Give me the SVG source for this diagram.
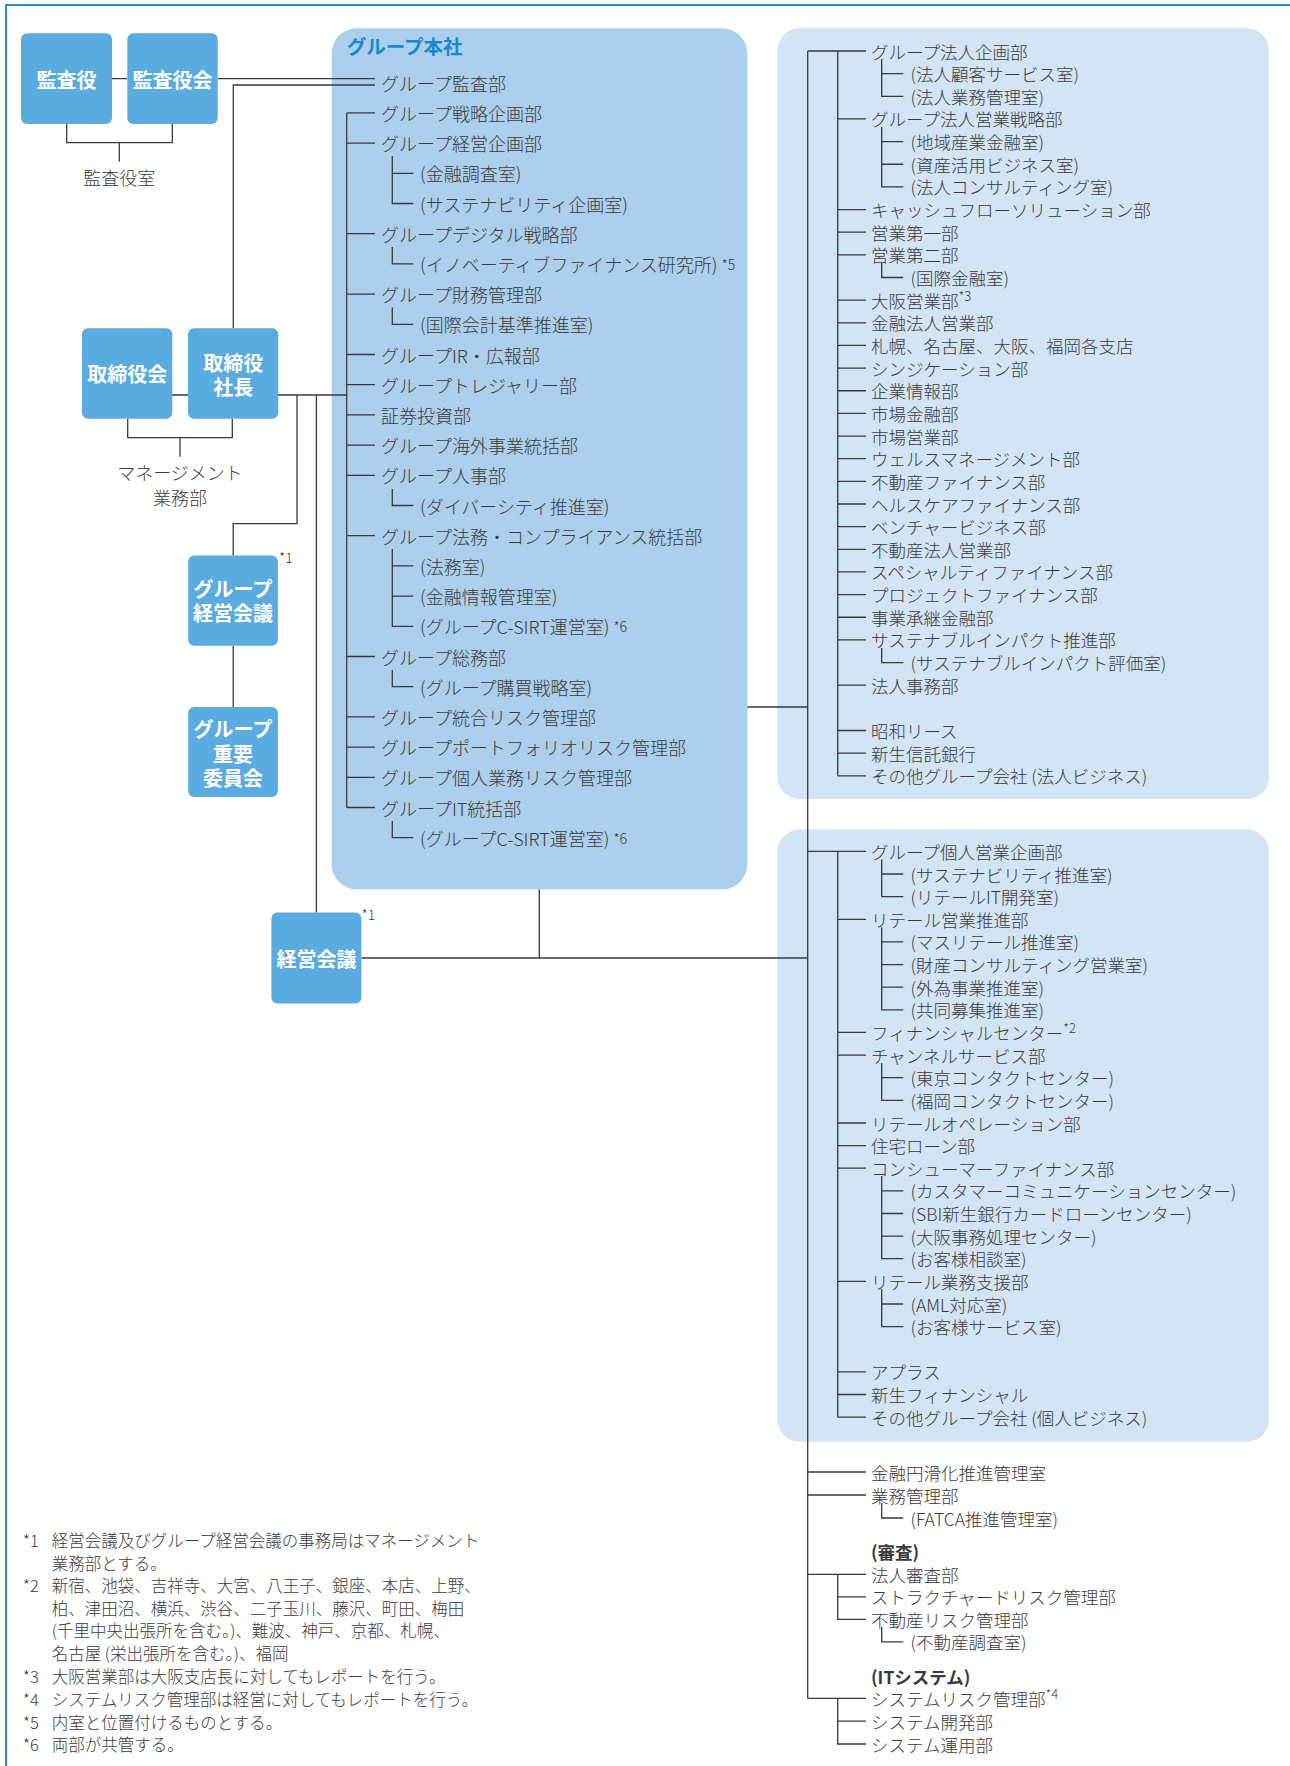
<svg xmlns="http://www.w3.org/2000/svg" width="1290" height="1766" viewBox="0 0 1290 1766">
<style>
text{font-family:"Noto Sans CJK JP","Noto Sans",sans-serif;dominant-baseline:central}
.t{font-size:18px;fill:#3b3b3b;font-weight:300}
.r{font-size:17.5px;fill:#3b3b3b;font-weight:300}
.b{font-weight:bold}
.sup{font-size:13px}
.ast{font-size:14px;fill:#3b3b3b;font-weight:300}
.fn{font-size:16.5px;fill:#3b3b3b;font-weight:300}
.bx{fill:#5aabdf}
.bt{font-size:20px;font-weight:bold;fill:#ffffff;text-anchor:middle}
.ln{stroke:#3a3a3a;stroke-width:1.3;fill:none}
.mid{text-anchor:middle}
</style>
<rect width="1290" height="1766" fill="#ffffff"/>
<path d="M6,1766 V5 H1290" fill="none" stroke="#2a8bd0" stroke-width="2"/>

<!-- panels -->
<g id="panel-hq">
<rect x="331.7" y="28.3" width="415.6" height="861" rx="25" fill="#abcfec"/>
<text x="346.7" y="45" font-size="19.5" font-weight="bold" fill="#1689d0">グループ本社</text>
</g>
<g id="panel-corporate"><rect x="777.5" y="28.3" width="491.5" height="770.7" rx="22" fill="#d3e4f4"/></g>
<g id="panel-retail"><rect x="777.5" y="829.5" width="491.5" height="612.2" rx="22" fill="#d3e4f4"/></g>

<!-- connectors -->
<g id="connectors" class="ln">
<path d="M112,78.7 H127 M218,78.7 H375 M233.3,328 V85 H375"/>
<path d="M66.7,124 V142.7 H172.3 V124 M119.3,142.7 V161.7"/>
<path d="M172,395 H188 M278,395 H346.7"/>
<path d="M127.7,419 V437.7 H232.3 V419 M180,437.7 V456.7"/>
<path d="M297,395 V523.6 H233.2 V555.4 M316.4,395 V912.5 M233.2,645.7 V707"/>
<path d="M361.4,958 H807.7 M539.3,889.3 V958 M747.3,707 H807.7 M807.7,51 V1698.4"/>
<!-- HQ tree -->
<path d="M346.7,112.9 V807.5 M346.7,112.9 H375 M346.7,143.1 H375 M346.7,233.7 H375 M346.7,294.1 H375 M346.7,354.5 H375 M346.7,384.7 H375 M346.7,414.9 H375 M346.7,445.1 H375 M346.7,475.3 H375 M346.7,535.7 H375 M346.7,656.5 H375 M346.7,716.9 H375 M346.7,747.1 H375 M346.7,777.3 H375 M346.7,807.5 H375"/>
<path d="M392.3,156 V203.5 H413.3 M392.3,173.3 H413.3 M392.3,247 V263.9 H413.3 M392.3,307.5 V324.3 H413.3 M392.3,489 V505.5 H413.3 M392.3,549 V626.3 H413.3 M392.3,565.9 H413.3 M392.3,596.1 H413.3 M392.3,670 V686.7 H413.3 M392.3,821 V837.7 H413.3"/>
<!-- corporate tree -->
<path d="M807.7,51 H866 M837.7,51 V775.8 M837.7,118.95 H866 M837.7,209.55 H866 M837.7,232.2 H866 M837.7,254.85 H866 M837.7,300.15 H866 M837.7,322.8 H866 M837.7,345.45 H866 M837.7,368.1 H866 M837.7,390.75 H866 M837.7,413.4 H866 M837.7,436.05 H866 M837.7,458.7 H866 M837.7,481.35 H866 M837.7,504 H866 M837.7,526.65 H866 M837.7,549.3 H866 M837.7,571.95 H866 M837.7,594.6 H866 M837.7,617.25 H866 M837.7,639.9 H866 M837.7,685.2 H866 M837.7,730.5 H866 M837.7,753.15 H866 M837.7,775.8 H866"/>
<path d="M881.7,59 V96.3 H903.3 M881.7,73.65 H903.3 M881.7,127 V186.9 H903.3 M881.7,141.6 H903.3 M881.7,164.25 H903.3 M881.7,263 V277.5 H903.3 M881.7,648 V662.55 H903.3"/>
<!-- retail tree -->
<path d="M807.7,851.4 H866 M837.7,851.4 V1417.2 M837.7,919.3 H866 M837.7,1032.4 H866 M837.7,1055.1 H866 M837.7,1123 H866 M837.7,1145.6 H866 M837.7,1168.2 H866 M837.7,1281.4 H866 M837.7,1371.9 H866 M837.7,1394.5 H866 M837.7,1417.2 H866"/>
<path d="M881.7,859.4 V896.7 H903.3 M881.7,874 H903.3 M881.7,927.3 V1009.8 H903.3 M881.7,941.9 H903.3 M881.7,964.6 H903.3 M881.7,987.2 H903.3 M881.7,1063 V1100.3 H903.3 M881.7,1077.7 H903.3 M881.7,1176 V1258.7 H903.3 M881.7,1190.9 H903.3 M881.7,1213.5 H903.3 M881.7,1236.1 H903.3 M881.7,1289 V1326.6 H903.3 M881.7,1304 H903.3"/>
<!-- lower tree -->
<path d="M807.7,1472 H866 M807.7,1495 H866 M881.7,1503 V1518 H903.3 M807.7,1574.3 H866 M837.7,1574.3 V1619.3 H866 M837.7,1596.8 H866 M881.7,1627 V1641.8 H903.3 M807.7,1698.4 H866 M837.7,1698.4 V1744 H866 M837.7,1721.2 H866"/>
</g>

<!-- board boxes -->
<g id="node-kansayaku"><rect class="bx" x="21" y="33.3" width="91" height="90.7" rx="6"/><text class="bt" x="66.5" y="79">監査役</text></g>
<g id="node-kansayakukai"><rect class="bx" x="127.3" y="33.3" width="90.4" height="90.7" rx="6"/><text class="bt" x="172.5" y="79">監査役会</text></g>
<g id="node-kansayakushitsu"><text class="t mid" x="119.3" y="177">監査役室</text></g>
<g id="node-torishimariyakukai"><rect class="bx" x="82" y="328.3" width="90.3" height="90.4" rx="6"/><text class="bt" x="127.2" y="373.5">取締役会</text></g>
<g id="node-shacho"><rect class="bx" x="188" y="328.3" width="90.3" height="90.4" rx="6"/><text class="bt" x="233.2" y="362">取締役<tspan x="233.2" dy="23.5">社長</tspan></text></g>
<g id="node-management"><text class="t mid" x="180" y="471.7">マネージメント<tspan x="180" dy="25">業務部</tspan></text></g>
<g id="node-group-keiei"><rect class="bx" x="188.2" y="555.4" width="89.7" height="90.3" rx="6"/><text class="bt" x="233" y="588">グループ<tspan x="233" dy="24">経営会議</tspan></text><text class="ast" x="279" y="557">*1</text></g>
<g id="node-group-juyo"><rect class="bx" x="188.2" y="707" width="89.7" height="90" rx="6"/><text class="bt" x="233" y="728.6">グループ<tspan x="233" dy="24.2">重要</tspan><tspan x="233" dy="24">委員会</tspan></text></g>
<g id="node-keiei"><rect class="bx" x="271.4" y="912.5" width="90" height="91" rx="6"/><text class="bt" x="316.4" y="958.2">経営会議</text><text class="ast" x="361.5" y="914">*1</text></g>

<!-- HQ items -->
<g id="hq-items" class="t">
<text x="381" y="82.7">グループ監査部</text>
<text x="381" y="112.9">グループ戦略企画部</text>
<text x="381" y="143.1">グループ経営企画部</text>
<text x="420" y="173.3">(金融調査室)</text>
<text x="420" y="203.5">(サステナビリティ企画室)</text>
<text x="381" y="233.7">グループデジタル戦略部</text>
<text x="420" y="263.9">(イノベーティブファイナンス研究所) <tspan font-size="14">*5</tspan></text>
<text x="381" y="294.1">グループ財務管理部</text>
<text x="420" y="324.3">(国際会計基準推進室)</text>
<text x="381" y="354.5">グループIR・広報部</text>
<text x="381" y="384.7">グループトレジャリー部</text>
<text x="381" y="414.9">証券投資部</text>
<text x="381" y="445.1">グループ海外事業統括部</text>
<text x="381" y="475.3">グループ人事部</text>
<text x="420" y="505.5">(ダイバーシティ推進室)</text>
<text x="381" y="535.7">グループ法務・コンプライアンス統括部</text>
<text x="420" y="565.9">(法務室)</text>
<text x="420" y="596.1">(金融情報管理室)</text>
<text x="420" y="626.3">(グループC-SIRT運営室) <tspan font-size="14">*6</tspan></text>
<text x="381" y="656.5">グループ総務部</text>
<text x="420" y="686.7">(グループ購買戦略室)</text>
<text x="381" y="716.9">グループ統合リスク管理部</text>
<text x="381" y="747.1">グループポートフォリオリスク管理部</text>
<text x="381" y="777.3">グループ個人業務リスク管理部</text>
<text x="381" y="807.5">グループIT統括部</text>
<text x="420" y="837.7">(グループC-SIRT運営室) <tspan font-size="14">*6</tspan></text>
</g>

<!-- corporate items -->
<g id="corporate-items" class="r">
<text x="871" y="51">グループ法人企画部</text>
<text x="910.5" y="73.65">(法人顧客サービス室)</text>
<text x="910.5" y="96.3">(法人業務管理室)</text>
<text x="871" y="118.95">グループ法人営業戦略部</text>
<text x="910.5" y="141.6">(地域産業金融室)</text>
<text x="910.5" y="164.25">(資産活用ビジネス室)</text>
<text x="910.5" y="186.9">(法人コンサルティング室)</text>
<text x="871" y="209.55">キャッシュフローソリューション部</text>
<text x="871" y="232.2">営業第一部</text>
<text x="871" y="254.85">営業第二部</text>
<text x="910.5" y="277.5">(国際金融室)</text>
<text x="871" y="300.15">大阪営業部<tspan class="sup" dy="-5">*3</tspan></text>
<text x="871" y="322.8">金融法人営業部</text>
<text x="871" y="345.45">札幌、名古屋、大阪、福岡各支店</text>
<text x="871" y="368.1">シンジケーション部</text>
<text x="871" y="390.75">企業情報部</text>
<text x="871" y="413.4">市場金融部</text>
<text x="871" y="436.05">市場営業部</text>
<text x="871" y="458.7">ウェルスマネージメント部</text>
<text x="871" y="481.35">不動産ファイナンス部</text>
<text x="871" y="504">ヘルスケアファイナンス部</text>
<text x="871" y="526.65">ベンチャービジネス部</text>
<text x="871" y="549.3">不動産法人営業部</text>
<text x="871" y="571.95">スペシャルティファイナンス部</text>
<text x="871" y="594.6">プロジェクトファイナンス部</text>
<text x="871" y="617.25">事業承継金融部</text>
<text x="871" y="639.9">サステナブルインパクト推進部</text>
<text x="910.5" y="662.55">(サステナブルインパクト評価室)</text>
<text x="871" y="685.2">法人事務部</text>
<text x="871" y="730.5">昭和リース</text>
<text x="871" y="753.15">新生信託銀行</text>
<text x="871" y="775.8">その他グループ会社 (法人ビジネス)</text>
</g>

<!-- retail items -->
<g id="retail-items" class="r">
<text x="871" y="851.4">グループ個人営業企画部</text>
<text x="910.5" y="874">(サステナビリティ推進室)</text>
<text x="910.5" y="896.7">(リテールIT開発室)</text>
<text x="871" y="919.3">リテール営業推進部</text>
<text x="910.5" y="941.9">(マスリテール推進室)</text>
<text x="910.5" y="964.6">(財産コンサルティング営業室)</text>
<text x="910.5" y="987.2">(外為事業推進室)</text>
<text x="910.5" y="1009.8">(共同募集推進室)</text>
<text x="871" y="1032.4">フィナンシャルセンター<tspan class="sup" dy="-5">*2</tspan></text>
<text x="871" y="1055.1">チャンネルサービス部</text>
<text x="910.5" y="1077.7">(東京コンタクトセンター)</text>
<text x="910.5" y="1100.3">(福岡コンタクトセンター)</text>
<text x="871" y="1123">リテールオペレーション部</text>
<text x="871" y="1145.6">住宅ローン部</text>
<text x="871" y="1168.2">コンシューマーファイナンス部</text>
<text x="910.5" y="1190.9">(カスタマーコミュニケーションセンター)</text>
<text x="910.5" y="1213.5">(SBI新生銀行カードローンセンター)</text>
<text x="910.5" y="1236.1">(大阪事務処理センター)</text>
<text x="910.5" y="1258.7">(お客様相談室)</text>
<text x="871" y="1281.4">リテール業務支援部</text>
<text x="910.5" y="1304">(AML対応室)</text>
<text x="910.5" y="1326.6">(お客様サービス室)</text>
<text x="871" y="1371.9">アプラス</text>
<text x="871" y="1394.5">新生フィナンシャル</text>
<text x="871" y="1417.2">その他グループ会社 (個人ビジネス)</text>
</g>

<!-- other items -->
<g id="other-items" class="r">
<text x="871" y="1472">金融円滑化推進管理室</text>
<text x="871" y="1495">業務管理部</text>
<text x="910.5" y="1518">(FATCA推進管理室)</text>
<text class="b" x="871" y="1551.7">(審査)</text>
<text x="871" y="1574.3">法人審査部</text>
<text x="871" y="1596.8">ストラクチャードリスク管理部</text>
<text x="871" y="1619.3">不動産リスク管理部</text>
<text x="910.5" y="1641.8">(不動産調査室)</text>
<text class="b" x="871" y="1676">(ITシステム)</text>
<text x="871" y="1698.4">システムリスク管理部<tspan class="sup" dy="-5">*4</tspan></text>
<text x="871" y="1721.2">システム開発部</text>
<text x="871" y="1744">システム運用部</text>
</g>

<!-- footnotes -->
<g id="footnotes" class="fn">
<text x="22.7" y="1540">*1</text><text x="51.7" y="1540">経営会議及びグループ経営会議の事務局はマネージメント</text>
<text x="51.7" y="1562.5">業務部とする。</text>
<text x="22.7" y="1585">*2</text><text x="51.7" y="1585">新宿、池袋、吉祥寺、大宮、八王子、銀座、本店、上野、</text>
<text x="51.7" y="1607.5">柏、津田沼、横浜、渋谷、二子玉川、藤沢、町田、梅田</text>
<text x="51.7" y="1630">(千里中央出張所を含む。)、難波、神戸、京都、札幌、</text>
<text x="51.7" y="1652.5">名古屋 (栄出張所を含む。)、福岡</text>
<text x="22.7" y="1676">*3</text><text x="51.7" y="1676">大阪営業部は大阪支店長に対してもレポートを行う。</text>
<text x="22.7" y="1698.5">*4</text><text x="51.7" y="1698.5">システムリスク管理部は経営に対してもレポートを行う。</text>
<text x="22.7" y="1721.5">*5</text><text x="51.7" y="1721.5">内室と位置付けるものとする。</text>
<text x="22.7" y="1744">*6</text><text x="51.7" y="1744">両部が共管する。</text>
</g>
</svg>
